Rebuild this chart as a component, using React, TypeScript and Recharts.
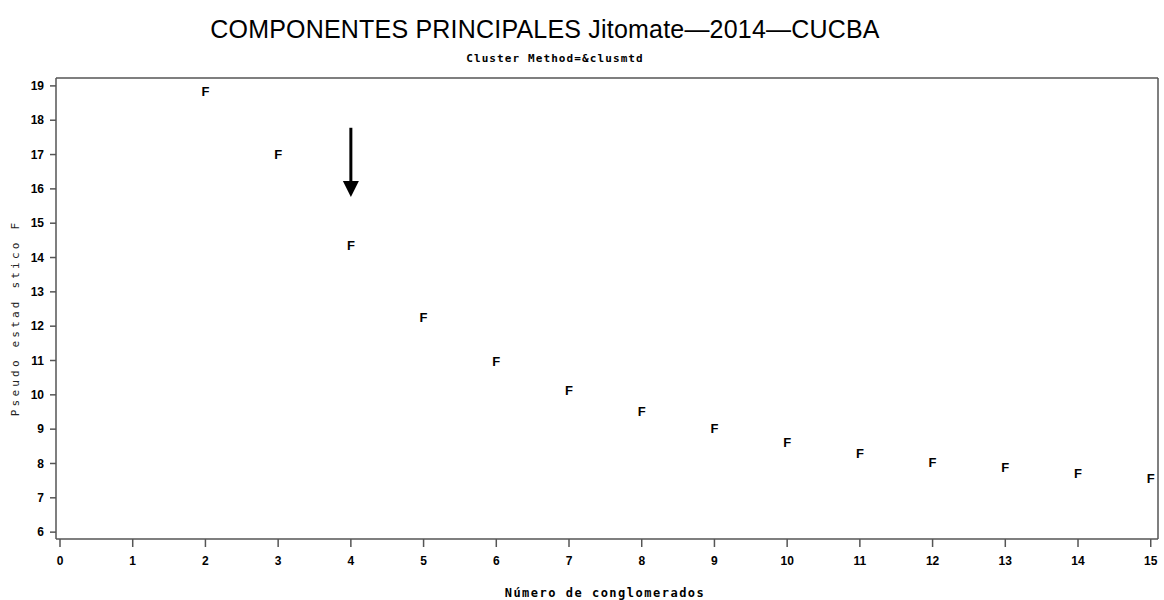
import {
  ReferenceLine,
  Scatter,
  ScatterChart,
  XAxis,
  YAxis,
} from "recharts";

const clusters = [2, 3, 4, 5, 6, 7, 8, 9, 10, 11, 12, 13, 14, 15];
const pseudoF = [18.85, 16.99, 14.34, 12.24, 10.98, 10.14, 9.5, 9.03, 8.62, 8.3, 8.04, 7.89, 7.72, 7.57];
const xTicks = [0, 1, 2, 3, 4, 5, 6, 7, 8, 9, 10, 11, 12, 13, 14, 15];
const yTicks = [6, 7, 8, 9, 10, 11, 12, 13, 14, 15, 16, 17, 18, 19];
const xDomain = [-0.055, 15.1];
const yDomain = [5.8, 19.23];
// arrow pointing at the elbow (4 clusters)
const arrowX = 4;
const arrowFrom = 17.78;
const arrowTo = 15.76;

const AXIS = "#555";
const TICK = { fontSize: 12, fill: "#000", fontWeight: 700, fontFamily: "Liberation Sans, Arial, sans-serif" };

const data = clusters.map((c, i) => ({ x: c, y: pseudoF[i] }));

const FMark = (p: any) => (
  <text
    x={p.cx}
    y={p.cy}
    textAnchor="middle"
    dominantBaseline="central"
    fontSize={13}
    fontWeight={700}
    fontFamily="Liberation Sans, Arial, sans-serif"
    fill="#000"
  >
    F
  </text>
);

const Arrow = (p: any) => {
  const { x1, y1, x2, y2 } = p;
  const head = 16;
  return (
    <g>
      <line x1={x1} y1={y1} x2={x2} y2={y2 - head + 2} stroke="#000" strokeWidth={3} />
      <polygon points={`${x2 - 8},${y2 - head} ${x2 + 8},${y2 - head} ${x2},${y2}`} fill="#000" />
    </g>
  );
};

export default function App() {
  return (
    <div style={{ position: "absolute", left: 0, top: 0, width: 1164, height: 600, background: "#fff" }}>
      <ScatterChart width={1164} height={600} margin={{ top: 78, right: 6, left: 0, bottom: 0 }}>
        <XAxis
          type="number"
          dataKey="x"
          domain={xDomain}
          ticks={xTicks}
          allowDataOverflow
          height={61}
          tickSize={8}
          tickMargin={9}
          tick={TICK}
          stroke={AXIS}
          strokeWidth={1.5}
        />
        <YAxis
          type="number"
          dataKey="y"
          domain={yDomain}
          ticks={yTicks}
          allowDataOverflow
          width={56}
          tickSize={6}
          tickMargin={6}
          tick={TICK}
          stroke={AXIS}
          strokeWidth={1.5}
        />
        <ReferenceLine y={yDomain[1]} stroke={AXIS} strokeWidth={1.5} />
        <ReferenceLine x={xDomain[1]} stroke={AXIS} strokeWidth={1.5} />
        <ReferenceLine
          segment={[{ x: arrowX, y: arrowFrom }, { x: arrowX, y: arrowTo }]}
          shape={Arrow}
        />
        <Scatter data={data} shape={FMark} isAnimationActive={false} />
      </ScatterChart>
      <svg width={1164} height={600} style={{ position: "absolute", left: 0, top: 0, pointerEvents: "none" }}>
        <text x={545} y={38} textAnchor="middle" fontSize={25} letterSpacing={0.2} fontFamily="Liberation Sans, Arial, sans-serif" fill="#000">
          COMPONENTES PRINCIPALES Jitomate—2014—CUCBA
        </text>
        <text x={555} y={62} textAnchor="middle" fontSize={11} fontWeight={700} letterSpacing={1.1} fontFamily="DejaVu Sans Mono, monospace" fill="#000">
          Cluster Method=&amp;clusmtd
        </text>
        <text x={605} y={597} textAnchor="middle" fontSize={12} fontWeight={700} letterSpacing={1.5} fontFamily="DejaVu Sans Mono, monospace" fill="#000">
          Número de conglomerados
        </text>
        <text
          x={15}
          y={318}
          transform="rotate(-90 15 318)"
          textAnchor="middle"
          dominantBaseline="central"
          fontSize={11}
          letterSpacing={3.2}
          fontFamily="DejaVu Sans Mono, monospace"
          fill="#222"
        >
          Pseudo estad stico F
        </text>
      </svg>
    </div>
  );
}
